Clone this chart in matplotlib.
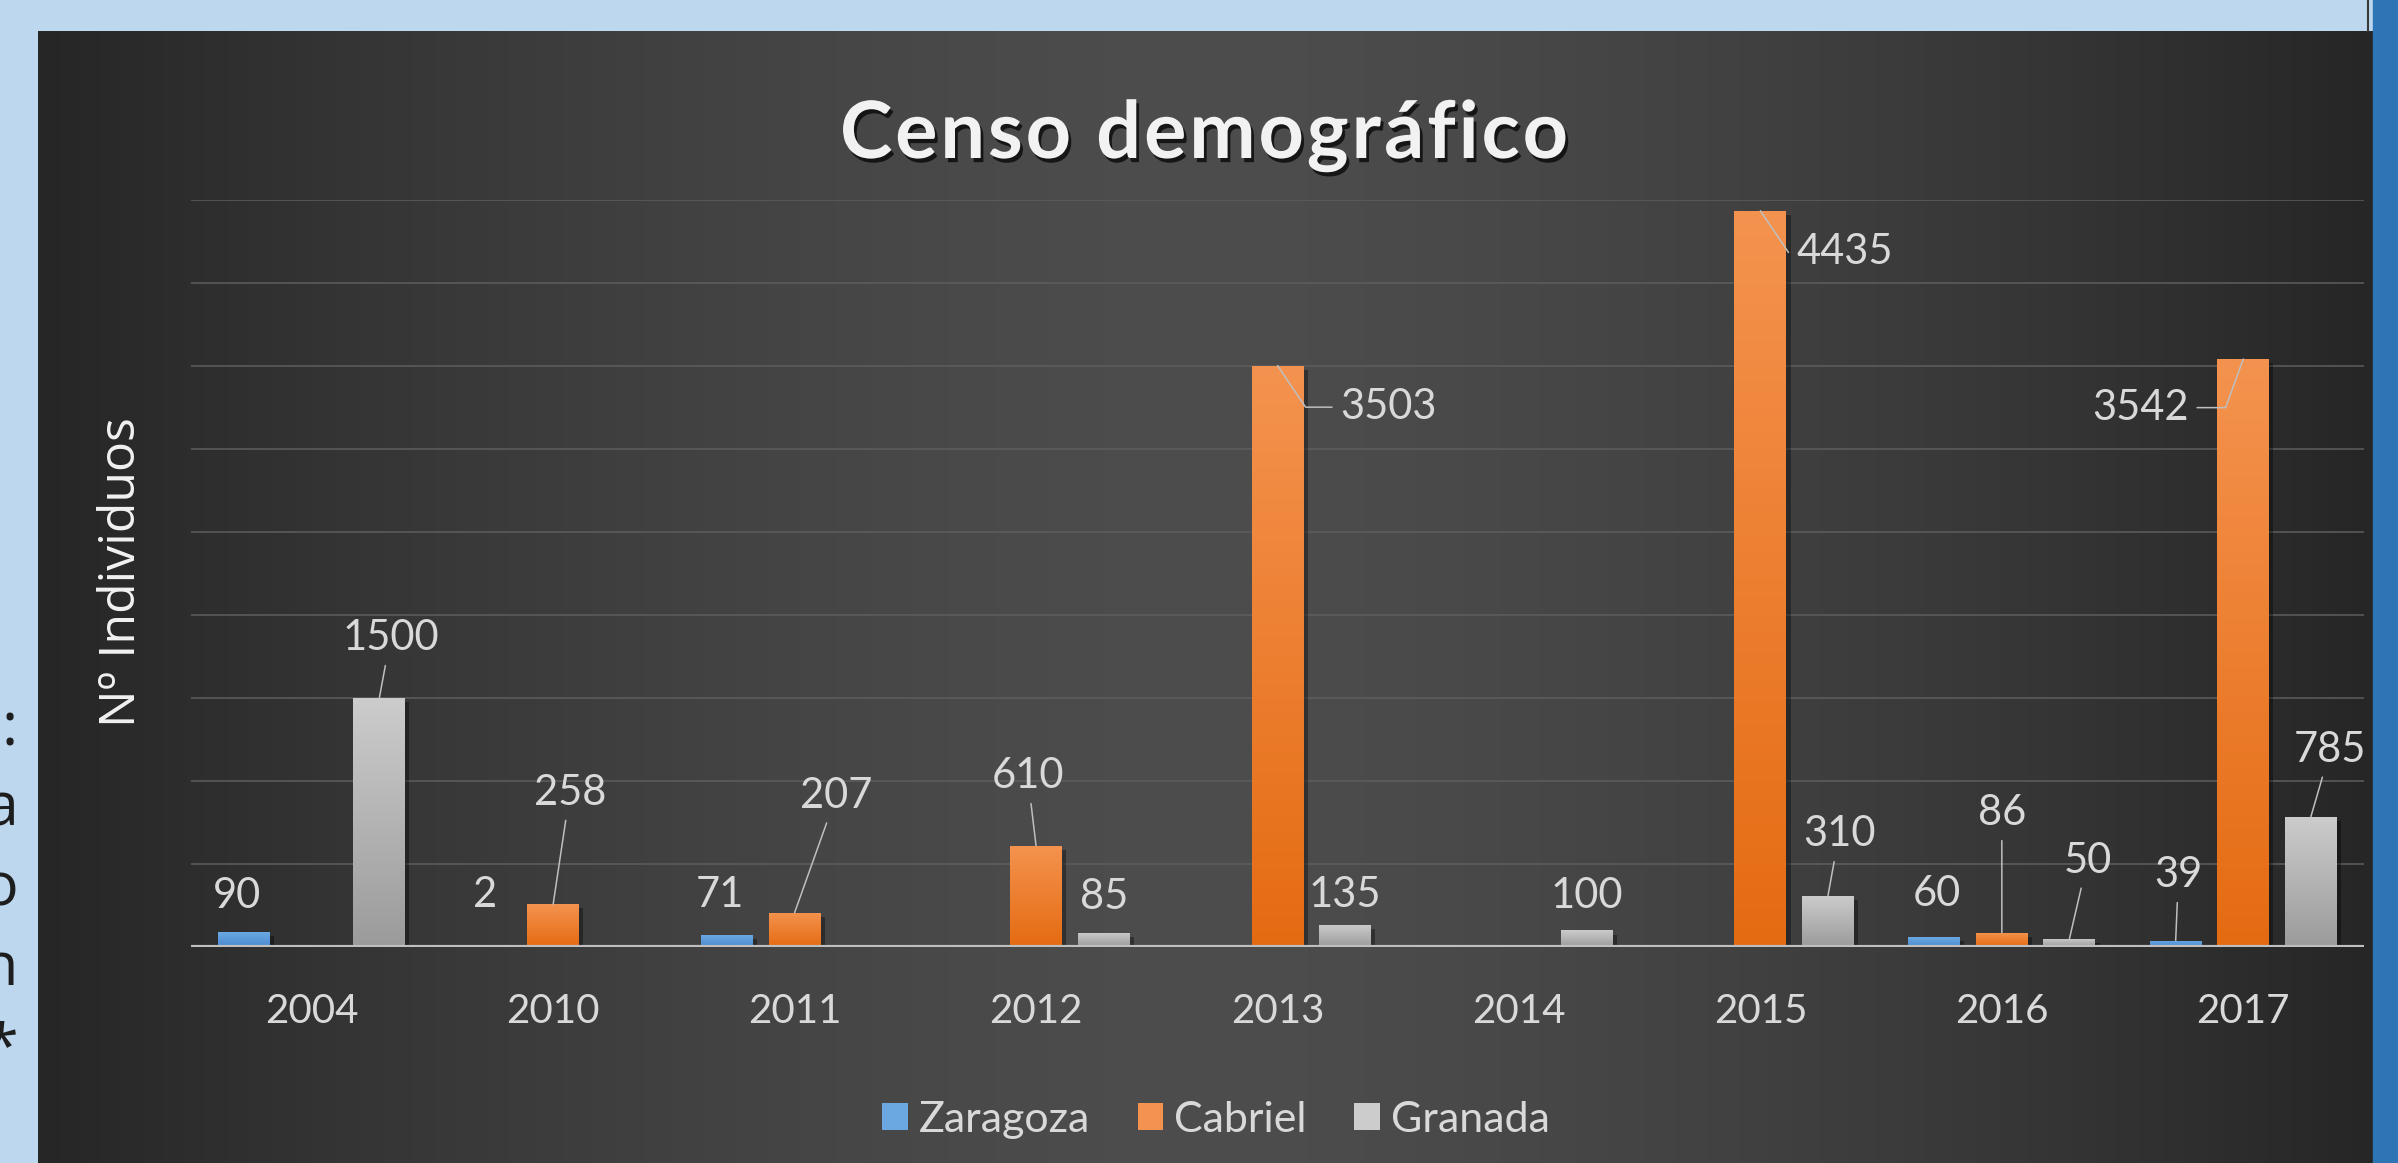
import numpy as np
import matplotlib
matplotlib.use("Agg")
import matplotlib.pyplot as plt
import matplotlib.patheffects as pe
from matplotlib.colors import LinearSegmentedColormap
from matplotlib.patches import Patch

# data
years = ["2004", "2010", "2011", "2012", "2013", "2014", "2015", "2016", "2017"]
zaragoza = [90, 2, 71, None, None, None, None, 60, 39]
cabriel = [None, 258, 207, 610, 3503, None, 4435, 86, 3542]
granada = [1500, None, None, 85, 135, 100, 310, 50, 785]
names = ["Zaragoza", "Cabriel", "Granada"]
title = "Censo demográfico"

# label offsets (points) from the top of each bar
off_z = [(-5, 26), (0, 37), (-5, 29), None, None, None, None, (2, 31), (2, 47)]
off_c = [None, (12, 80), (30, 84), (-6, 50), (80, -30), None, (61, -30), (0, 86), (-74, -35)]
off_g = [(8, 43), None, None, (0, 26), (0, 21), (0, 25), (8, 44), (13, 56), (14, 48)]

W, H = 2398, 1163
fig = plt.figure(figsize=(W / 100, H / 100), dpi=100)
fig.patch.set_facecolor("#BDD7EE")
rend = fig.canvas.get_renderer()

# slide bits around the chart
fig.patches.append(plt.Rectangle((2373 / W, 0), (W - 2373) / W, 1, transform=fig.transFigure,
                                 color="#2E75B6", zorder=0))
fig.add_artist(plt.Line2D([2368 / W, 2368 / W], [1 - 31 / H, 1], color="#3a3a3a", lw=1.5))
side_txt = [":", "a", "o", "n", "*"]
side_y = [745, 826, 906, 985, 1066]
for s, yy in zip(side_txt, side_y):
    fig.text(18 / W, 1 - yy / H, s, ha="right", va="baseline", fontsize=44,
             family="Open Sans", color="#1e1e1e")

# dark chart background with horizontal gradient
bg = fig.add_axes([38 / W, 0, (2373 - 38) / W, (H - 31) / H], zorder=0)
xg = np.linspace(0, 1, 600)
v = 1 - np.abs(2 * xg - 1) ** 1.5
c = (38 + (77 - 38) * v) / 255
img = np.dstack([np.tile(c, (10, 1))] * 3)
bg.imshow(img, aspect="auto", extent=[0, 1, 0, 1])
bg.set_axis_off()

ax = fig.add_axes([191 / W, 216 / H, (2364 - 191) / W, (947 - 200) / H], zorder=1)
ax.patch.set_alpha(0)

bar_w = 0.215
offs = [-0.28, 0, 0.28]
grads = [("#4a8ad0", "#6ba8e2"), ("#e56b12", "#f4934f"), ("#9b9b9b", "#cccccc")]
lab_c = "#d9d9d9"
lead_c = "#bfbfbf"
grad = np.linspace(0, 1, 256).reshape(-1, 1)

for k, (vals, lo) in enumerate(zip([zaragoza, cabriel, granada], [off_z, off_c, off_g])):
    cmap = LinearSegmentedColormap.from_list("g%d" % k, list(grads[k]))
    xs = [i + offs[k] for i, val in enumerate(vals) if val is not None]
    ys = [val for val in vals if val is not None]
    bars = ax.bar(xs, ys, width=bar_w, color=grads[k][1], zorder=2)
    for b in bars:
        b.set_path_effects([pe.SimplePatchShadow(offset=(3, -3), shadow_rgbFace="black", alpha=0.35),
                            pe.Normal()])
        x0, y0 = b.get_xy()
        im = ax.imshow(grad, extent=[x0, x0 + b.get_width(), y0, y0 + b.get_height()],
                       origin="lower", aspect="auto", cmap=cmap, zorder=2.1)
        im.set_clip_path(b)
    for i, val in enumerate(vals):
        if val is None:
            continue
        dx, dy = lo[i]
        if dy < 0:
            ang = -56 if dx > 0 else 70
            arrow = dict(arrowstyle="-", color=lead_c, lw=1.1, shrinkA=4, shrinkB=0,
                         connectionstyle="angle,angleA=0,angleB=%d,rad=0" % ang)
        elif np.hypot(dx, dy) > 40:
            arrow = dict(arrowstyle="-", color=lead_c, lw=1.1, shrinkA=4, shrinkB=0)
        else:
            arrow = None
        ax.annotate(str(val), xy=(i + offs[k], val), xytext=(dx, dy), textcoords="offset points",
                    ha="center", va="center", fontsize=30, family="Lato", color=lab_c,
                    arrowprops=arrow, zorder=5)

ax.axhline(0, color="#bfbfbf", lw=3, zorder=3)
ax.set_xlim(-0.5, 8.5)
ax.set_ylim(0, 4500)
ax.set_yticks(np.arange(0, 4501, 500))
ax.grid(axis="y", color="#5e5e5e", lw=1.1)
ax.set_axisbelow(True)
ax.tick_params(axis="y", length=0, labelleft=False)
ax.set_xticks(range(len(years)))
ax.set_xticklabels(years, fontsize=29, family="Lato", color=lab_c)
ax.tick_params(axis="x", length=0, pad=33)
for sp in ax.spines.values():
    sp.set_visible(False)

# title with letter spacing, drawn one character at a time
tkw = dict(fontsize=57, fontweight="bold", family="Lato")


def text_w(t):
    tt = fig.text(0, 0, t, **tkw)
    w = tt.get_window_extent(rend).width
    tt.remove()
    return w


title_w = 728
sp_px = (title_w - text_w(title)) / (len(title) - 1)
x_start = 1204 - title_w / 2
for i, ch in enumerate(title):
    if ch == " ":
        continue
    xl = x_start + text_w(title[:i + 1]) - text_w(ch) + i * sp_px
    fig.text(xl / W, 1 - 158 / H, ch, ha="left", va="baseline", color="#f2f2f2", zorder=5,
             path_effects=[pe.SimplePatchShadow(offset=(2, -3), shadow_rgbFace="black", alpha=0.7),
                           pe.Normal()], **tkw)

fig.text(122 / W, 1 - 572 / H, "Nº Individuos", rotation=90, ha="center", va="center",
         fontsize=36, family="Open Sans", color="#f2f2f2", zorder=5)

handles = [Patch(facecolor=g[1]) for g in grads]
fig.legend(handles, names, loc="center", bbox_to_anchor=(1216 / W, 1 - 1120 / H), ncol=3,
           frameon=False, prop={"family": "Lato", "size": 31}, labelcolor=lab_c,
           handlelength=0.6, handleheight=0.6, handletextpad=0.25, columnspacing=1.1)

fig.savefig("out.png", dpi=100)
